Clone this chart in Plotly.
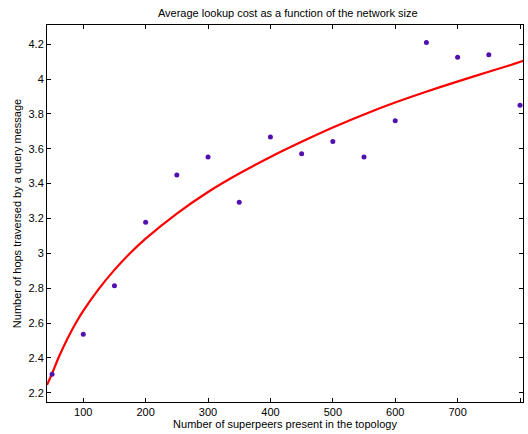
import plotly.graph_objects as go

# Measured data points
sizes = [50, 100, 150, 200, 250, 300, 350, 400, 450, 500, 550, 600, 650, 700, 750, 800]
hops = [2.306, 2.535, 2.814, 3.178, 3.45, 3.553, 3.293, 3.668, 3.572, 3.641, 3.553, 3.760, 4.209, 4.125, 4.140, 3.850]

# Fitted curve
fit_x = [42, 50, 60, 75, 90, 100, 125, 150, 175, 200, 250, 300, 350, 400, 450, 500, 566, 619, 673, 726, 780, 805]
fit_y = [2.245, 2.31, 2.398, 2.513, 2.612, 2.67, 2.796, 2.905, 3.0, 3.084, 3.228, 3.352, 3.458, 3.553, 3.64, 3.722, 3.82, 3.89, 3.955, 4.015, 4.075, 4.105]

x_ticks = [100, 200, 300, 400, 500, 600, 700, 800]
y_ticks = [2.2, 2.4, 2.6, 2.8, 3.0, 3.2, 3.4, 3.6, 3.8, 4.0, 4.2]
y_labels = ["2.2", "2.4", "2.6", "2.8", "3", "3.2", "3.4", "3.6", "3.8", "4", "4.2"]

font = "Liberation Sans, Arial, Helvetica, sans-serif"

fig = go.Figure()
fig.add_trace(go.Scatter(x=fit_x, y=fit_y, mode="lines",
                         line=dict(color="#ff0000", width=2.2, shape="spline", smoothing=0.6),
                         showlegend=False, hoverinfo="skip"))
fig.add_trace(go.Scatter(x=sizes, y=hops, mode="markers", marker=dict(color="#5010b0", size=5),
                         showlegend=False, cliponaxis=False))

axis_common = dict(showline=True, linecolor="black", linewidth=1, mirror="allticks", ticks="inside",
                   ticklen=4, tickcolor="black", showgrid=False, zeroline=False, automargin=False,
                   tickfont=dict(family=font, size=11, color="black"))

fig.update_layout(
    width=528, height=434,
    margin=dict(l=47, r=5, t=25, b=32, autoexpand=False),
    paper_bgcolor="white", plot_bgcolor="white",
    title=dict(text="Average lookup cost as a function of the network size", x=0.545, xanchor="center",
               y=1 - 13 / 434, yanchor="middle", automargin=False,
               font=dict(family=font, size=11, color="black")),
    xaxis=dict(range=[41.9, 804.8], tickvals=x_ticks, ticktext=[str(v) for v in x_ticks],
               title=dict(text="Number of superpeers present in the topology", standoff=2,
                          font=dict(family=font, size=11, color="black")), **axis_common),
    yaxis=dict(range=[2.147, 4.31], tickvals=y_ticks, ticktext=y_labels,
               title=dict(text="Number of hops traversed by a query message", standoff=4,
                          font=dict(family=font, size=11, color="black")), **axis_common),
)

fig.write_html("out.html", config={"displayModeBar": False},
               post_script="document.body.style.margin='0';document.body.style.overflow='hidden';")
